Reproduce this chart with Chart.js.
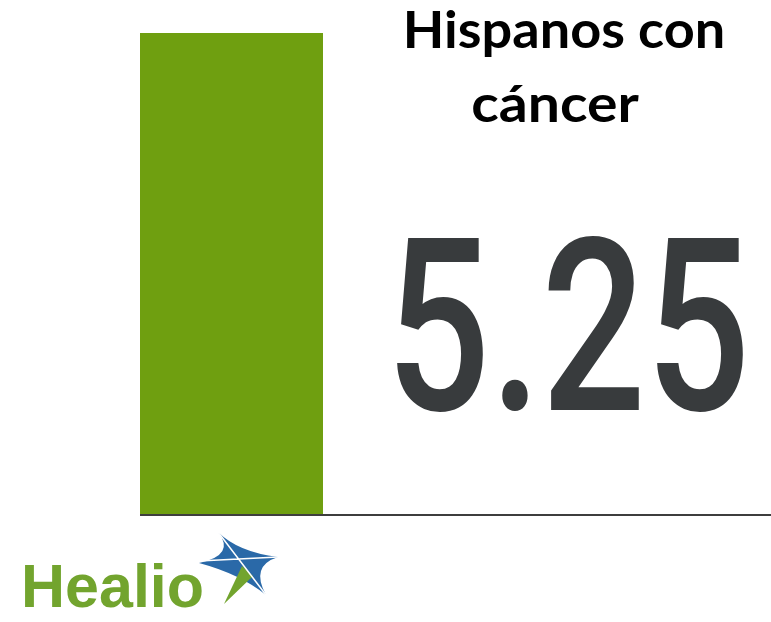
<!DOCTYPE html>
<html>
<head>
<meta charset="utf-8">
<script src="https://cdn.jsdelivr.net/npm/chart.js@4"></script>
<style>
  body { margin: 0; background: #fff; }
  canvas { display: block; }
</style>
</head>
<body>
<canvas id="chart" width="771" height="622"></canvas>
<script>
var categories = ['Hispanos con cáncer'];
var values = [5.25];
var titleLines = ['Hispanos con', 'cáncer'];
var brand = 'Healio';

// texts, baseline and logo drawn on top of the bar
var overlay = {
    id: 'overlay',
    afterDraw: function (chart) {
        var ctx = chart.ctx;
        var area = chart.chartArea;
        var y0 = chart.scales.y.getPixelForValue(0);
        ctx.save();

        // baseline runs across the whole width
        ctx.strokeStyle = '#3e3e3e';
        ctx.lineWidth = 2;
        ctx.beginPath();
        ctx.moveTo(area.left, y0 + 1);
        ctx.lineTo(chart.width, y0 + 1);
        ctx.stroke();

        // title
        ctx.fillStyle = '#000';
        ctx.textAlign = 'center';
        ctx.textBaseline = 'alphabetic';
        ctx.font = 'bold 51px Lato';
        ctx.save();
        ctx.translate(564, 48);
        ctx.scale(1.06, 1);
        ctx.fillText(titleLines[0], 0, 0);
        ctx.restore();
        ctx.save();
        ctx.translate(555, 122);
        ctx.scale(1.12, 1);
        ctx.fillText(titleLines[1], 0, 0);
        ctx.restore();

        // big value
        ctx.save();
        ctx.translate(568, 410);
        ctx.scale(0.76, 1);
        ctx.fillStyle = '#383b3d';
        ctx.font = '500 242px Roboto';
        ctx.fillText(values[0].toFixed(2), 0, 0);
        ctx.restore();

        // logo
        ctx.textAlign = 'left';
        ctx.fillStyle = '#72a42e';
        ctx.font = 'bold 61px "Liberation Sans"';
        ctx.fillText(brand, 21, 607);

        ctx.fillStyle = '#2a69a8';
        ctx.beginPath();
        ctx.moveTo(218, 532);
        ctx.quadraticCurveTo(238, 552, 278, 557);
        ctx.quadraticCurveTo(250, 566, 266, 595);
        ctx.quadraticCurveTo(240, 574, 199, 563);
        ctx.quadraticCurveTo(236, 555, 218, 532);
        ctx.fill();

        ctx.fillStyle = '#72a42e';
        ctx.beginPath();
        ctx.moveTo(242, 566);
        ctx.lineTo(224, 604);
        ctx.lineTo(253, 576);
        ctx.fill();

        ctx.strokeStyle = '#fff';
        ctx.lineWidth = 1.5;
        ctx.beginPath();
        ctx.moveTo(218, 532);
        ctx.lineTo(266, 595);
        ctx.moveTo(199, 561);
        ctx.lineTo(278, 557);
        ctx.stroke();

        ctx.restore();
    }
};

new Chart(document.getElementById('chart').getContext('2d'), {
    type: 'bar',
    data: {
        labels: categories,
        datasets: [{
            data: values,
            backgroundColor: '#6f9f10',
            borderWidth: 0,
            barPercentage: 1,
            categoryPercentage: 1
        }]
    },
    options: {
        responsive: false,
        animation: false,
        devicePixelRatio: 1,
        layout: { padding: { left: 140, right: 448, top: 33, bottom: 108 } },
        plugins: { legend: { display: false }, tooltip: { enabled: false } },
        scales: {
            x: { display: false },
            y: { display: false, min: 0, max: 5.25 }
        }
    },
    plugins: [overlay]
});
</script>
</body>
</html>
